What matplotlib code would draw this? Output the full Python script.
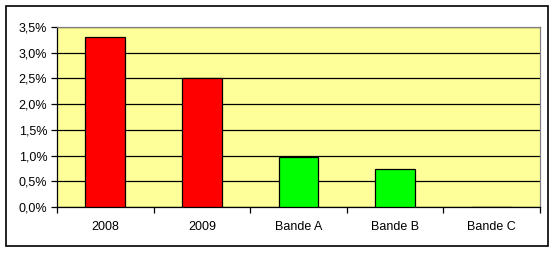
import matplotlib.pyplot as plt
from matplotlib.patches import Rectangle
from matplotlib.ticker import FuncFormatter

# Data
categories = ["2008", "2009", "Bande A", "Bande B", "Bande C"]
values = [3.3, 2.5, 0.98, 0.74, 0.0]
bar_colors = ["#FF0000", "#FF0000", "#00FF00", "#00FF00", "#00FF00"]

plt.rcParams['font.family'] = ['Liberation Sans', 'DejaVu Sans']

fig = plt.figure(figsize=(5.56, 2.54), dpi=100)
W, H = 556, 254

# outer chart frame
fig.patches.append(Rectangle((6 / W, 1 - 246 / H), (548 - 6) / W, (246 - 6) / H,
                             transform=fig.transFigure, fill=False,
                             edgecolor="black", linewidth=1.2))

left, top, right, bottom = 57, 27, 540, 207
ax = fig.add_axes([left / W, 1 - bottom / H, (right - left) / W, (bottom - top) / H])
ax.set_facecolor("#FFFF99")

x = range(len(categories))
ax.bar(x, values, width=0.41, color=bar_colors, edgecolor="black", linewidth=0.9, zorder=3)

ax.set_xlim(-0.5, len(categories) - 0.5)
ax.set_ylim(0, 3.5)
ax.set_yticks([i * 0.5 for i in range(8)])
ax.yaxis.set_major_formatter(FuncFormatter(lambda v, p: f"{v:.1f}%".replace(".", ",")))
ax.grid(axis="y", color="black", linewidth=0.9, zorder=1)

# category boundaries get the tick marks, names sit in between
ax.set_xticks([i + 0.5 for i in range(-1, len(categories))], minor=False)
ax.set_xticklabels([])
ax.set_xticks(list(x), minor=True)
ax.set_xticklabels(categories, minor=True)
ax.tick_params(axis="x", which="minor", length=0, pad=10, labelsize=9)
ax.tick_params(axis="x", which="major", length=4, width=0.9, direction="out")
ax.tick_params(axis="y", length=4, width=0.9, direction="out", labelsize=9, pad=3)

for s in ["top", "right"]:
    ax.spines[s].set_color("#808080")
    ax.spines[s].set_linewidth(0.9)
for s in ["left", "bottom"]:
    ax.spines[s].set_color("black")
    ax.spines[s].set_linewidth(0.9)

fig.savefig("out.png", dpi=100)
